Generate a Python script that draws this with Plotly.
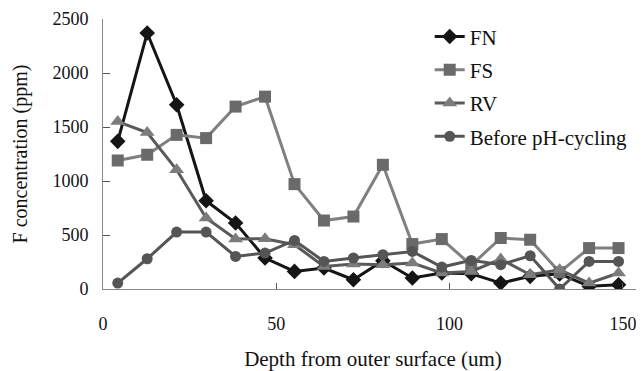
import plotly.graph_objects as go

depth = [4.25, 12.75, 21.25, 29.75, 38.25, 46.75, 55.25, 63.75, 72.25, 80.75,
         89.25, 97.75, 106.25, 114.75, 123.25, 131.75, 140.25, 148.75]
fn = [1367, 2370, 1706, 817, 611, 287, 163, 194, 86, 262, 102, 148, 141, 55, 117, 140, 25, 40]
fs = [1190, 1243, 1427, 1397, 1689, 1781, 971, 634, 671, 1150, 416, 462, 220, 472, 456, 155, 379, 379]
rv = [1550, 1448, 1104, 657, 463, 465, 410, 209, 231, 225, 240, 148, 163, 277, 132, 178, 55, 148]
before = [55, 280, 527, 527, 302, 333, 450, 255, 287, 317, 348, 203, 265, 225, 308, 0, 255, 255]

x_ticks = [0, 50, 100, 150]
y_ticks = [0, 500, 1000, 1500, 2000, 2500]

font = "Liberation Serif, Times New Roman, serif"

fig = go.Figure()
fig.add_trace(go.Scatter(x=depth, y=fn, name="FN", mode="lines+markers", legendgroup="a",
                         line=dict(color="#151515", width=3),
                         marker=dict(symbol="diamond", size=12, color="#151515")))
fig.add_trace(go.Scatter(x=depth, y=fs, name="FS", mode="lines+markers", legendgroup="b",
                         line=dict(color="#808080", width=3),
                         marker=dict(symbol="square", size=12, color="#6a6a6a")))
fig.add_trace(go.Scatter(x=depth, y=rv, name="RV", mode="lines+markers", legendgroup="c",
                         line=dict(color="#5a5a5a", width=3),
                         marker=dict(symbol="triangle-up", size=13, color="#7c7c7c")))
fig.add_trace(go.Scatter(x=depth, y=before, name="Before pH-cycling", mode="lines+markers",
                         legendgroup="d",
                         line=dict(color="#555555", width=3),
                         marker=dict(symbol="circle", size=11, color="#555555")))

# the page body has an 8px default margin, so the figure is sized to fit the window
fig.update_layout(
    width=636, height=363,
    margin=dict(l=95, r=1, t=11, b=82),
    paper_bgcolor="white", plot_bgcolor="white",
    font=dict(family=font, size=18, color="#111111"),
    showlegend=True,
    legend=dict(x=0.605, y=1.01, xanchor="left", yanchor="top",
                bgcolor="rgba(0,0,0,0)", font=dict(size=21, family=font),
                traceorder="grouped", tracegroupgap=3),
    xaxis=dict(range=[0, 155.8], tickvals=x_ticks, ticks="inside", ticklen=6,
               tickcolor="#555", showline=True, linecolor="#888", linewidth=1,
               showgrid=False, zeroline=False, ticklabelstandoff=18, automargin=False,
               title=dict(text="Depth from outer surface (um)", standoff=22,
                          font=dict(size=21))),
    yaxis=dict(range=[0, 2500], tickvals=y_ticks, ticks="inside", ticklen=7,
               tickcolor="#555", showline=True, linecolor="#888", linewidth=1,
               showgrid=False, zeroline=False, ticklabelstandoff=10, automargin=False,
               title=dict(text="F concentration (ppm)", standoff=19,
                          font=dict(size=20))),
)

fig.write_html("out.html")
